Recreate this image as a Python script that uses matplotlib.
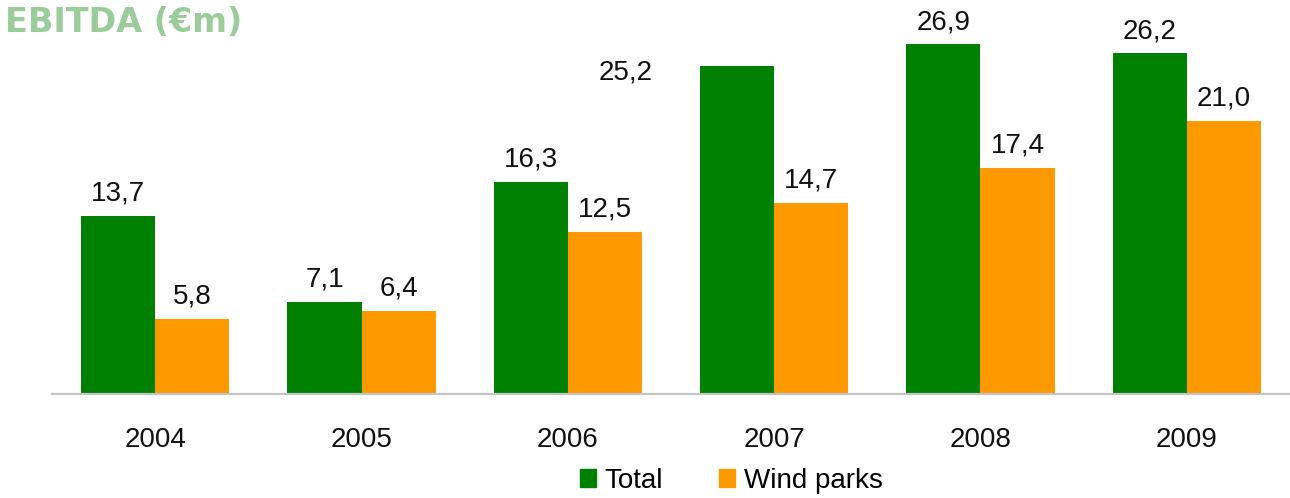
import matplotlib
matplotlib.use("Agg")
import matplotlib.pyplot as plt
from matplotlib.patches import Patch
import numpy as np

years = ["2004", "2005", "2006", "2007", "2008", "2009"]
total = [13.7, 7.1, 16.3, 25.2, 26.9, 26.2]
wind = [5.8, 6.4, 12.5, 14.7, 17.4, 21.0]
series_names = ["Total", "Wind parks"]

GREEN = "#008000"
ORANGE = "#FF9900"
TITLE_C = "#99CC99"
FONT = "Liberation Sans"

W, H, DPI = 1290, 498, 100
fig = plt.figure(figsize=(W / DPI, H / DPI), dpi=DPI)
ax = fig.add_axes([52 / W, 1 - 394 / H, 1 - 52 / W, 390 / H])

x = np.arange(len(years))
bw = 0.359
b1 = ax.bar(x - bw / 2, total, bw, color=GREEN, zorder=2)
b2 = ax.bar(x + bw / 2, wind, bw, color=ORANGE, zorder=2)

ax.set_xlim(-0.5, len(years) - 0.5)
ax.set_ylim(0, 30)
for s in ["top", "right", "left"]:
    ax.spines[s].set_visible(False)
ax.spines["bottom"].set_color("#C4C4C4")
ax.spines["bottom"].set_linewidth(1.6)
ax.set_yticks([])
ax.set_xticks(x)
ax.set_xticklabels(years, fontsize=20, family=FONT, color="#111111")
ax.tick_params(axis="x", length=0, pad=24)

def fmt(v):
    return f"{v:.1f}".replace(".", ",")

for bars, vals in ((b1, total), (b2, wind)):
    for rect, v in zip(bars, vals):
        cx = rect.get_x() + rect.get_width() / 2
        if bars is b1 and v == 25.2:
            off = (-80, -9.5)
        else:
            off = (0, 11)
        ax.annotate(fmt(v), (cx, v), xytext=off, textcoords="offset points",
                    ha="center", va="baseline", fontsize=20, family=FONT,
                    color="#111111", annotation_clip=False)

fig.text(5 / W, 1 - 32 / H, "EBITDA (€m)", fontsize=24, fontweight="bold",
         family="DejaVu Sans", color=TITLE_C, ha="left", va="baseline")

handles = [Patch(color=GREEN), Patch(color=ORANGE)]
fig.legend(handles, series_names, loc="center", bbox_to_anchor=(731 / W, 1 - 481 / H),
           ncol=2, frameon=False, prop={"family": FONT, "size": 20},
           handlelength=0.6, handleheight=0.6, handletextpad=0.3,
           columnspacing=2.0, borderpad=0)

fig.savefig("out.png", dpi=DPI)
